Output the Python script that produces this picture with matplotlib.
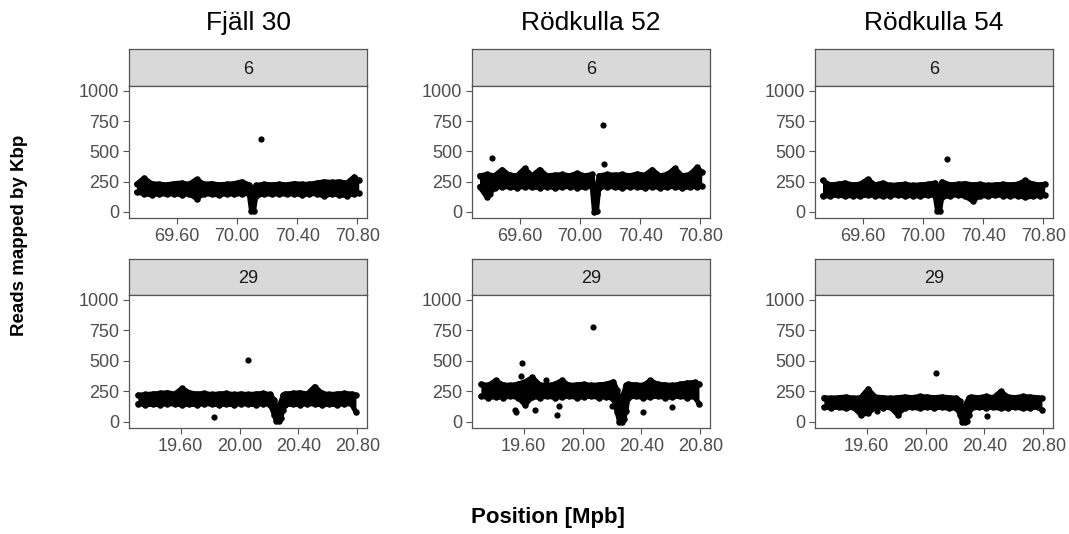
import matplotlib
matplotlib.use("Agg")
import matplotlib.pyplot as plt

# ── data ────────────────────────────────────────────────────────────────────
samples = ["Fjäll 30", "Rödkulla 52", "Rödkulla 54"]
chroms = ["6", "29"]

pos6 = [69.33, 69.38, 69.43, 69.48, 69.53, 69.58, 69.63, 69.68, 69.73, 69.78,
        69.83, 69.88, 69.93, 69.98, 70.03, 70.08, 70.095, 70.11, 70.125, 70.18,
        70.23, 70.28, 70.33, 70.38, 70.43, 70.48, 70.53, 70.58, 70.63, 70.68,
        70.73, 70.78, 70.81]
pos29 = [19.31, 19.36, 19.41, 19.46, 19.51, 19.56, 19.61, 19.66, 19.71, 19.76,
         19.81, 19.86, 19.91, 19.96, 20.01, 20.06, 20.11, 20.16, 20.21, 20.235,
         20.25, 20.265, 20.28, 20.295, 20.31, 20.36, 20.41, 20.46, 20.51, 20.56,
         20.61, 20.66, 20.71, 20.76, 20.79]

# lower / upper edge of the dense band of windows
fj6_low = [165, 150, 140, 150, 145, 150, 140, 150, 110, 150, 145, 140, 150, 145, 150, 150, 10,
           5, 130, 150, 145, 150, 145, 150, 140, 150, 150, 130, 150, 140, 135, 150, 155]
fj6_high = [230, 280, 235, 230, 225, 235, 240, 230, 270, 230, 235, 225, 230, 235, 250, 225, 200,
            180, 220, 230, 225, 230, 225, 235, 230, 230, 240, 250, 245, 250, 240, 290, 260]
r52_6_low = [210, 120, 200, 210, 205, 200, 210, 205, 200, 210, 200, 205, 210, 200, 205, 210, 0,
             10, 200, 210, 205, 200, 210, 205, 200, 210, 200, 205, 210, 200, 205, 210, 215]
r52_6_high = [300, 310, 300, 350, 305, 300, 360, 300, 350, 300, 305, 310, 300, 320, 300, 310, 160,
              150, 300, 310, 305, 310, 300, 315, 305, 350, 300, 310, 360, 300, 310, 370, 330]
r54_6_low = [135, 130, 140, 130, 135, 130, 140, 135, 130, 135, 140, 130, 135, 130, 140, 135, 10,
             5, 120, 135, 140, 130, 90, 135, 130, 140, 135, 130, 135, 120, 130, 135, 140]
r54_6_high = [260, 225, 230, 240, 225, 230, 270, 225, 240, 220, 225, 230, 220, 225, 230, 240, 200,
              190, 250, 225, 230, 235, 225, 230, 220, 225, 230, 225, 230, 260, 230, 225, 230]

fj29_low = [150, 140, 145, 140, 150, 145, 140, 145, 140, 150, 145, 140, 145, 140, 150, 145, 140, 150,
            140, 60, 5, 5, 30, 100, 140, 145, 140, 150, 145, 140, 145, 140, 150, 145, 80]
fj29_high = [220, 225, 230, 235, 240, 230, 275, 240, 230, 235, 225, 230, 235, 225, 230, 225, 230, 235,
             225, 180, 130, 110, 160, 220, 230, 235, 240, 230, 290, 235, 225, 230, 235, 230, 220]
r52_29_low = [210, 200, 205, 200, 210, 200, 140, 205, 200, 210, 200, 205, 210, 200, 205, 210, 200, 205,
              190, 80, 0, 0, 20, 90, 200, 210, 200, 205, 210, 200, 205, 210, 200, 205, 150]
r52_29_high = [310, 300, 340, 305, 300, 310, 330, 365, 305, 300, 310, 340, 300, 305, 310, 300, 305, 310,
               330, 260, 200, 160, 240, 300, 310, 305, 300, 340, 310, 305, 300, 310, 320, 325, 310]
r54_29_low = [120, 115, 120, 110, 120, 60, 70, 120, 115, 120, 60, 115, 120, 110, 120, 115, 120, 110,
              115, 60, 0, 0, 10, 60, 110, 120, 115, 120, 110, 115, 120, 110, 115, 120, 100]
r54_29_high = [200, 195, 200, 205, 195, 200, 270, 205, 200, 195, 200, 205, 200, 210, 205, 200, 205, 200,
               195, 170, 120, 110, 160, 200, 205, 200, 210, 200, 250, 205, 200, 210, 205, 200, 195]

# isolated windows away from the band
fj6_out_x, fj6_out_y = [70.16], [600]
r52_6_out_x, r52_6_out_y = [69.415, 70.155, 70.16, 69.40], [450, 715, 400, 150]
r54_6_out_x, r54_6_out_y = [70.16], [440]
fj29_out_x, fj29_out_y = [20.06, 19.825], [510, 40]
r52_29_out_x = [20.07, 19.59, 19.58, 19.545, 19.55, 19.68, 19.83, 19.84, 20.20, 20.41, 20.61, 19.75]
r52_29_out_y = [780, 480, 380, 100, 85, 100, 60, 130, 130, 80, 120, 340]
r54_29_out_x, r54_29_out_y = [20.07, 20.42, 19.67], [400, 50, 90]

panels = {
    ("6", 0): (pos6, fj6_low, fj6_high, fj6_out_x, fj6_out_y),
    ("6", 1): (pos6, r52_6_low, r52_6_high, r52_6_out_x, r52_6_out_y),
    ("6", 2): (pos6, r54_6_low, r54_6_high, r54_6_out_x, r54_6_out_y),
    ("29", 0): (pos29, fj29_low, fj29_high, fj29_out_x, fj29_out_y),
    ("29", 1): (pos29, r52_29_low, r52_29_high, r52_29_out_x, r52_29_out_y),
    ("29", 2): (pos29, r54_29_low, r54_29_high, r54_29_out_x, r54_29_out_y),
}
xticks = {"6": [69.6, 70.0, 70.4, 70.8], "29": [19.6, 20.0, 20.4, 20.8]}
xlims = {"6": (69.28, 70.865), "29": (19.25, 20.865)}
yticks = [0, 250, 500, 750, 1000]

# ── layout (pixel boxes of the reference) ────────────────────────────────────
plt.rcParams["font.family"] = ["Liberation Sans", "DejaVu Sans"]
W, H = 1069, 534
fig = plt.figure(figsize=(W / 100, H / 100), dpi=100)


def rect(x0, y0, x1, y1):
    return [x0 / W, 1 - y1 / H, (x1 - x0) / W, (y1 - y0) / H]


col_left = [129, 472, 815]
pw = 238
rows = [(49, 86, 218), (259, 295, 428)]
grey = "#4D4D4D"
edge = "#555555"

for r, chrom in enumerate(chroms):
    s_top, p_top, p_bot = rows[r]
    for c in range(3):
        x0 = col_left[c]
        # strip
        sax = fig.add_axes(rect(x0, s_top, x0 + pw, p_top))
        sax.set_facecolor("#D9D9D9")
        sax.set_xticks([])
        sax.set_yticks([])
        for sp in sax.spines.values():
            sp.set_color(edge)
            sp.set_linewidth(0.9)
        sax.text(0.5, 0.45, chrom, ha="center", va="center", fontsize=13,
                 color="#1A1A1A", transform=sax.transAxes)

        ax = fig.add_axes(rect(x0, p_top, x0 + pw, p_bot))
        pos, low, high, ox, oy = panels[(chrom, c)]
        ax.fill_between(pos, low, high, color="black", lw=0)
        ax.plot(pos, low, color="black", lw=3.5, solid_joinstyle="round",
                solid_capstyle="round")
        ax.plot(pos, high, color="black", lw=3.5, solid_joinstyle="round",
                solid_capstyle="round")
        ax.scatter(pos, low, s=22, c="black", lw=0)
        ax.scatter(pos, high, s=22, c="black", lw=0)
        ax.scatter(ox, oy, s=20, c="black", lw=0)
        ax.set_xlim(*xlims[chrom])
        ax.set_ylim(-50, 1041)
        ax.set_xticks(xticks[chrom])
        ax.set_xticklabels([f"{v:.2f}" for v in xticks[chrom]])
        ax.set_yticks(yticks)
        ax.tick_params(labelsize=13, labelcolor=grey, color=edge, length=4,
                       width=0.8, pad=3)
        for sp in ax.spines.values():
            sp.set_color(edge)
            sp.set_linewidth(0.9)

for c, name in enumerate(samples):
    fig.text((col_left[c] + pw / 2) / W, 1 - 23 / H, name, ha="center",
             va="center", fontsize=19, color="black")

fig.text(20 / W, 1 - 235 / H, "Reads mapped by Kbp", rotation=90, ha="center",
         va="center", fontsize=13.5, fontweight="bold")
fig.text(548 / W, 1 - 517 / H, "Position [Mpb]", ha="center", va="center",
         fontsize=16, fontweight="bold")

fig.savefig("out.png", dpi=100)
